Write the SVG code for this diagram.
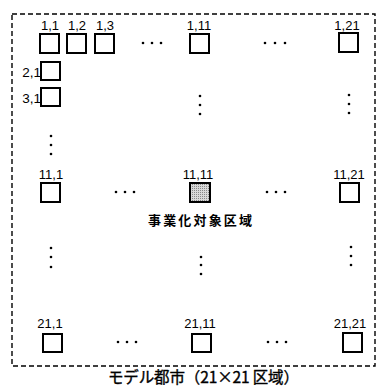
<svg xmlns="http://www.w3.org/2000/svg" width="379" height="389" viewBox="0 0 379 389">
<defs>
<pattern id="dotfill" width="2" height="2" patternUnits="userSpaceOnUse">
<rect width="2" height="2" fill="#d8d8d8"/>
<rect width="1" height="1" fill="#888"/>
</pattern>
</defs>
<style>
.box{fill:#fff;stroke:#000;stroke-width:2}
.hl{fill:url(#dotfill);stroke:#000;stroke-width:2}
.lbl{font-family:"Liberation Sans",Arial,sans-serif;font-size:13px;fill:#000;text-anchor:middle}
.lbl2{font-family:"Liberation Sans",Arial,sans-serif;font-size:13.5px;fill:#000;text-anchor:end}
.dot{fill:#000}
.jp{font-family:"Noto Sans CJK JP",sans-serif;fill:#000}
.frame{fill:none;stroke:#000;stroke-width:1.4;stroke-dasharray:5 3}
</style>
<rect width="379" height="389" fill="#fff"/>
<rect id="city" class="frame" x="12" y="14" width="363" height="352"/>

<g id="n1_1"><text class="lbl" x="50" y="30">1,1</text><rect class="box" x="40" y="34" width="19" height="19"/></g>
<g id="n1_2"><text class="lbl" x="77" y="30">1,2</text><rect class="box" x="67" y="34" width="19" height="19"/></g>
<g id="n1_3"><text class="lbl" x="105" y="30">1,3</text><rect class="box" x="95" y="34" width="19" height="19"/></g>
<g id="n1_11"><text class="lbl" x="199" y="30">1,11</text><rect class="box" x="190" y="34" width="19" height="19"/></g>
<g id="n1_21"><text class="lbl" x="347" y="30">1,21</text><rect class="box" x="339" y="33" width="19" height="19"/></g>
<g id="n2_1"><text class="lbl2" x="41" y="77">2,1</text><rect class="box" x="41" y="62" width="19" height="18"/></g>
<g id="n3_1"><text class="lbl2" x="41" y="103">3,1</text><rect class="box" x="41" y="88" width="19" height="18"/></g>
<g id="n11_1"><text class="lbl" x="51" y="179">11,1</text><rect class="box" x="41" y="183" width="19" height="19"/></g>
<g id="n11_11"><text class="lbl" x="198" y="179">11,11</text><rect class="hl" x="190" y="183" width="20" height="19"/>
<text class="jp" x="148" y="224.5" font-size="13" font-weight="bold" textLength="104" lengthAdjust="spacing">事業化対象区域</text></g>
<g id="n11_21"><text class="lbl" x="349" y="179">11,21</text><rect class="box" x="340" y="183" width="19" height="19"/></g>
<g id="n21_1"><text class="lbl" x="50" y="328">21,1</text><rect class="box" x="43" y="334" width="19" height="18"/></g>
<g id="n21_11"><text class="lbl" x="200" y="328">21,11</text><rect class="box" x="192" y="334" width="19" height="18"/></g>
<g id="n21_21"><text class="lbl" x="350" y="328">21,21</text><rect class="box" x="343" y="333" width="19" height="19"/></g>

<g id="ellipses" class="dot">
<circle cx="143" cy="43" r="1.3"/><circle cx="152" cy="43" r="1.3"/><circle cx="161" cy="43" r="1.3"/>
<circle cx="265" cy="43" r="1.3"/><circle cx="275" cy="43" r="1.3"/><circle cx="285" cy="43" r="1.3"/>
<circle cx="116" cy="192" r="1.3"/><circle cx="125" cy="192" r="1.3"/><circle cx="134" cy="192" r="1.3"/>
<circle cx="267" cy="192" r="1.3"/><circle cx="276" cy="192" r="1.3"/><circle cx="285" cy="192" r="1.3"/>
<circle cx="118" cy="342" r="1.3"/><circle cx="127" cy="342" r="1.3"/><circle cx="136" cy="342" r="1.3"/>
<circle cx="268" cy="342" r="1.3"/><circle cx="277" cy="342" r="1.3"/><circle cx="286" cy="342" r="1.3"/>
<circle cx="51" cy="136" r="1.3"/><circle cx="51" cy="145" r="1.3"/><circle cx="51" cy="154" r="1.3"/>
<circle cx="200" cy="96" r="1.3"/><circle cx="200" cy="105" r="1.3"/><circle cx="200" cy="114" r="1.3"/>
<circle cx="349" cy="95" r="1.3"/><circle cx="349" cy="104" r="1.3"/><circle cx="349" cy="113" r="1.3"/>
<circle cx="51" cy="248" r="1.3"/><circle cx="51" cy="257" r="1.3"/><circle cx="51" cy="267" r="1.3"/>
<circle cx="201" cy="257" r="1.3"/><circle cx="201" cy="265" r="1.3"/><circle cx="201" cy="274" r="1.3"/>
<circle cx="351" cy="247" r="1.3"/><circle cx="351" cy="256" r="1.3"/><circle cx="351" cy="265" r="1.3"/>
</g>

<g id="caption"><text class="jp" x="108" y="382.5" font-size="15.5" stroke="#000" stroke-width="0.35" textLength="191" lengthAdjust="spacing">モデル都市（21×21 区域）</text></g>
</svg>
